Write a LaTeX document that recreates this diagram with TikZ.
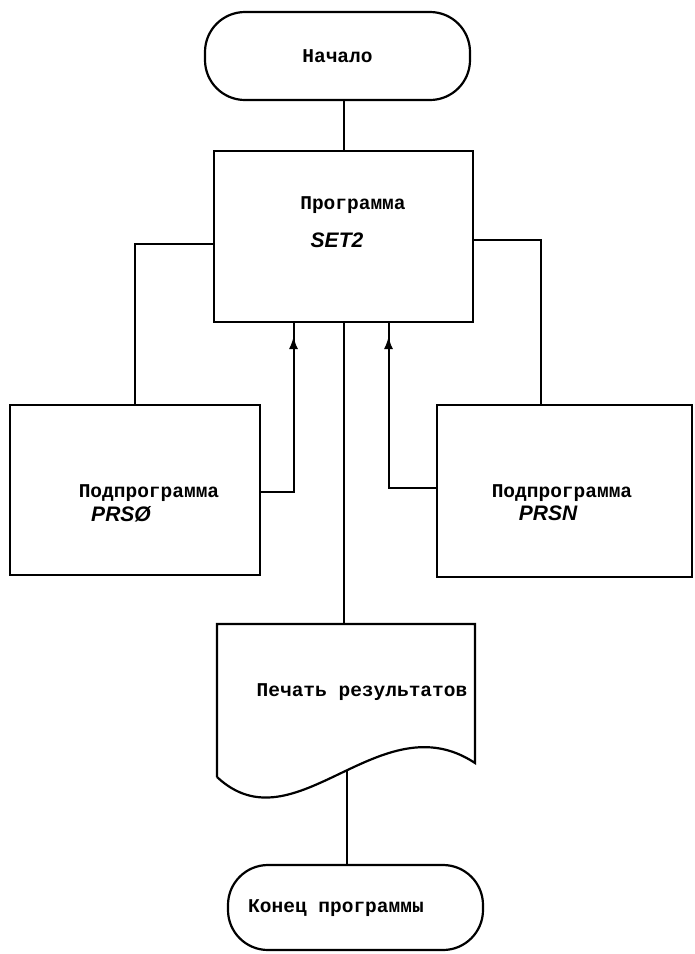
\documentclass[tikz,border=0pt]{standalone}
\usepackage{fontspec}
\newfontfamily\typefont{Liberation Mono}
\newfontfamily\handfont{Liberation Sans}
\usetikzlibrary{calc,arrows.meta,decorations.markings,positioning}
\tikzset{
	terminal/.style={
		draw, rectangle, rounded corners=40pt,
		line width=2.2pt, inner sep=0pt, text=black,
		font=\typefont\bfseries\fontsize{19.5}{22}\selectfont
	},
	procbox/.style={
		draw, rectangle, line width=2.2pt, inner sep=0pt
	},
	lbl/.style={
		inner sep=0pt, font=\typefont\bfseries\fontsize{19.5}{22}\selectfont
	},
	hand/.style={
		inner sep=0pt, font=\handfont\bfseries\itshape\fontsize{21}{24}\selectfont
	},
	flow/.style={line width=2pt},
	midarrow/.style={
		flow, decoration={markings,
			mark=at position -14pt with {\arrow[line width=1pt]{Latex[length=12pt,width=9pt]}}},
		postaction={decorate}
	}
}

\begin{document}
\begin{tikzpicture}[x=1pt,y=-1pt]
				\useasboundingbox (0,0) rectangle (695,954);
				\node[terminal, minimum width=265pt, minimum height=88pt] (start) at (337.5,56) {Начало};
				\node[procbox, minimum width=259pt, minimum height=171pt] (main) at (343.5,236.5) {};
				\node[lbl]  (mainlbl) at (353,205) {Программа};
				\node[hand] (mainset) at (337,240) {SET2};
				\node[procbox, minimum width=250pt, minimum height=170pt] (prsz) at (135,490) {};
				\node[lbl]  (prszlbl) at (149,493) {Подпрограмма};
				\node[hand] (prszset) at (121,514) {PRSØ};
				\node[procbox, minimum width=255pt, minimum height=172pt] (prsn) at (564.5,491) {};
				\node[lbl]  (prsnlbl) at (562,493) {Подпрограмма};
				\node[hand] (prsnset) at (548,513) {PRSN};
				\node[lbl]  (doclbl) at (362,692) {Печать результатов};
				\node[terminal, minimum width=255pt, minimum height=85pt] (fin) at (355.5,907.5) {};
				\node[lbl]  (finlbl) at (336,908) {Конец программы};
				% document shape
				\draw[line width=2.2pt] (217,777) -- (217,624) coordinate (doctop) -- (475,624) -- (475,763)
					.. controls (380,700) and (295,850) .. (217,777) coordinate[pos=0.47] (docbot);
				\draw[flow] (main.north) -- (main.north |- start.south);
				\draw[flow] ([yshift=-7pt]main.west) -| (prsz.north);
				\draw[flow] ([yshift=-3pt]main.east) -| ([xshift=-24pt]prsn.north);
				\draw[midarrow] ([yshift=-2pt]prsz.east) -| ([xshift=-50pt]main.south);
				\draw[midarrow] ([yshift=3pt]prsn.west) -| ([xshift=45pt]main.south);
				\draw[flow] (main.south) -- (main.south |- doctop);
				\draw[flow] (docbot) -- (docbot |- fin.north);
			\end{tikzpicture}
\end{document}
